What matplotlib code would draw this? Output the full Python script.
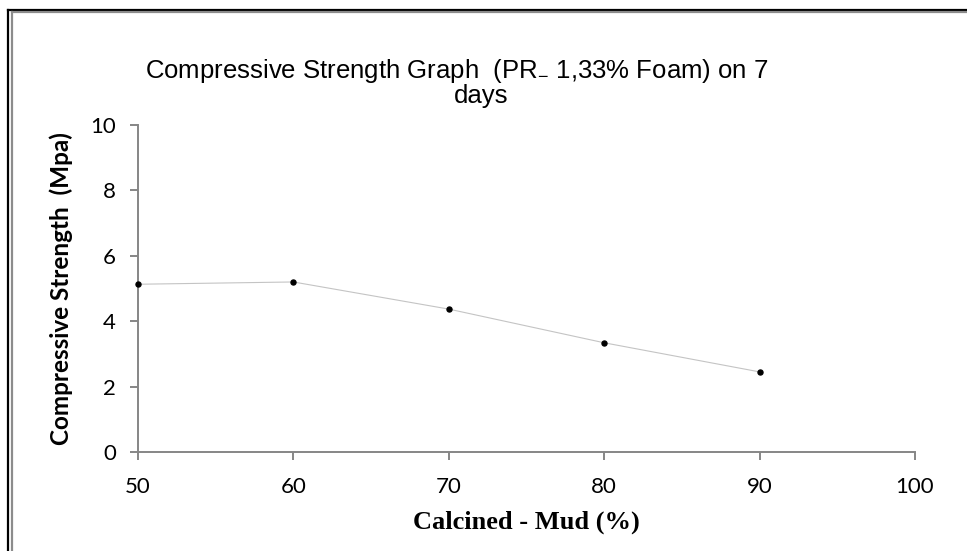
import matplotlib
matplotlib.use("Agg")
import matplotlib.pyplot as plt
from matplotlib.lines import Line2D

# data
calcined_mud = [50, 60, 70, 80, 90]
strength = [5.13, 5.20, 4.37, 3.34, 2.45]
x_ticks = [50, 60, 70, 80, 90, 100]
y_ticks = [0, 2, 4, 6, 8, 10]

W, H = 967, 551
fig = plt.figure(figsize=(W / 100, H / 100), dpi=100)
ax = fig.add_axes([138 / W, 1 - 452 / H, (915 - 138) / W, (452 - 125) / H])

ax.plot(calcined_mud, strength, color="#c4c4c4", linewidth=0.8,
        marker="o", markersize=3.6, markerfacecolor="black",
        markeredgecolor="black", zorder=3, clip_on=False)

ax.set_xlim(50, 100)
ax.set_ylim(0, 10)
ax.set_xticks(x_ticks)
ax.set_yticks(y_ticks)

for s in ["top", "right"]:
    ax.spines[s].set_visible(False)
for s in ["left", "bottom"]:
    ax.spines[s].set_color("#868686")
    ax.spines[s].set_linewidth(1.4)

ax.tick_params(axis="both", direction="out", length=6, width=1.4,
               color="#868686", labelsize=16)
ax.tick_params(axis="x", pad=12)
ax.tick_params(axis="y", pad=10)
for lab in ax.get_xticklabels() + ax.get_yticklabels():
    lab.set_fontfamily("Lato")

ax.set_ylabel("Compressive Strength  (Mpa)", fontfamily="Lato",
              fontweight="bold", fontsize=17.5, labelpad=12)
ax.set_xlabel("Calcined - Mud (%)", fontfamily="Liberation Serif",
              fontweight="bold", fontsize=19, labelpad=10)

# two-line title, as wrapped in the original
fig.text(457 / W, 1 - 78 / H,
         "Compressive Strength Graph  (PR$_{\\mathregular{-}}$ 1,33% Foam) on 7",
         fontfamily="Liberation Sans", fontsize=18.5, ha="center", va="baseline")
fig.text(481 / W, 1 - 103 / H, "days", fontfamily="Liberation Sans",
         fontsize=18.5, ha="center", va="baseline")

# outer double frame
fig.add_artist(Line2D([7.5 / W, 7.5 / W], [0, 1 - 9.5 / H], color="black",
                      linewidth=1.6, transform=fig.transFigure))
fig.add_artist(Line2D([7.5 / W, 1], [1 - 9.5 / H, 1 - 9.5 / H], color="black",
                      linewidth=1.6, transform=fig.transFigure))
fig.add_artist(Line2D([12 / W, 12 / W], [0, 1 - 11.5 / H], color="#8c8c8c",
                      linewidth=1.6, transform=fig.transFigure))
fig.add_artist(Line2D([12 / W, 1], [1 - 11.5 / H, 1 - 11.5 / H], color="#8c8c8c",
                      linewidth=1.6, transform=fig.transFigure))

fig.savefig("out.png", dpi=100)
